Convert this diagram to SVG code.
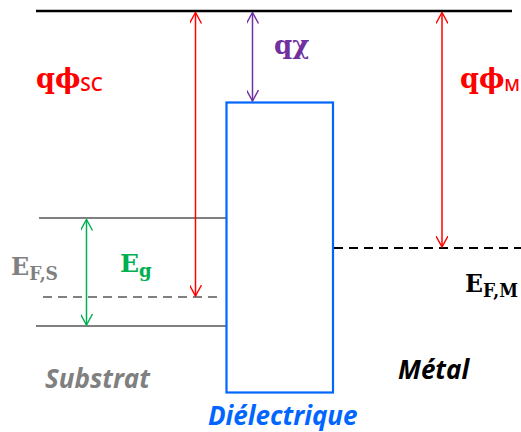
<svg xmlns="http://www.w3.org/2000/svg" width="521" height="432" viewBox="0 0 521 432">
<defs>
<marker id="ar-red" viewBox="0 0 12 12" refX="11" refY="6" markerWidth="12" markerHeight="12" markerUnits="userSpaceOnUse" orient="auto-start-reverse"><path d="M0,0 L11,6 L0,12" fill="none" stroke="#FF0000" stroke-width="1.4"/></marker>
<marker id="ar-pur" viewBox="0 0 12 12" refX="11" refY="6" markerWidth="12" markerHeight="12" markerUnits="userSpaceOnUse" orient="auto-start-reverse"><path d="M0,0 L11,6 L0,12" fill="none" stroke="#7030A0" stroke-width="1.4"/></marker>
<marker id="ar-grn" viewBox="0 0 12 12" refX="11" refY="6" markerWidth="12" markerHeight="12" markerUnits="userSpaceOnUse" orient="auto-start-reverse"><path d="M0,0 L11,6 L0,12" fill="none" stroke="#00B050" stroke-width="1.4"/></marker>
<style>
.serif{font-family:"DejaVu Serif","Liberation Serif",serif;font-weight:bold}
.sans{font-family:"Open Sans","Liberation Sans",sans-serif;font-weight:bold;font-style:italic}
.lvl{stroke-width:2.2;fill:none}
</style>
</defs>
<g id="levels">
<line x1="36" y1="11" x2="512" y2="11" stroke="#000" stroke-width="2.5"/>
<line class="lvl" x1="39" y1="218" x2="226" y2="218" stroke="#808080"/>
<line class="lvl" x1="36" y1="326" x2="226" y2="326" stroke="#808080"/>
<line class="lvl" x1="43" y1="297" x2="222" y2="297" stroke="#808080" stroke-dasharray="9,6"/>
<line class="lvl" x1="334" y1="248" x2="521" y2="248" stroke="#000" stroke-dasharray="9,6"/>
</g>
<g id="dielectrique">
<rect x="226.5" y="102.5" width="106.5" height="290" fill="none" stroke="#0066FF" stroke-width="2.2"/>
</g>
<g id="connectors">
<line x1="195.5" y1="12.5" x2="195.5" y2="296" stroke="#FF0000" stroke-width="1.5" marker-start="url(#ar-red)" marker-end="url(#ar-red)"/>
<line x1="252.5" y1="12.5" x2="252.5" y2="101" stroke="#7030A0" stroke-width="1.5" marker-start="url(#ar-pur)" marker-end="url(#ar-pur)"/>
<line x1="442" y1="12.5" x2="442" y2="247" stroke="#FF0000" stroke-width="1.5" marker-start="url(#ar-red)" marker-end="url(#ar-red)"/>
<line x1="86.5" y1="219.5" x2="86.5" y2="325" stroke="#00B050" stroke-width="1.5" marker-start="url(#ar-grn)" marker-end="url(#ar-grn)"/>
</g>
<g id="labels">
<text class="serif" x="36" y="88" font-size="27" fill="#FF0000">qϕ<tspan font-family="Open Sans, Liberation Sans, sans-serif" font-weight="600" font-size="19" dy="3">SC</tspan></text>
<text class="serif" x="274" y="54" font-size="26" fill="#7030A0">qχ</text>
<text class="serif" x="460" y="88" font-size="27" fill="#FF0000">qϕ<tspan font-family="Open Sans, Liberation Sans, sans-serif" font-weight="600" font-size="17" dy="3">M</tspan></text>
<text class="serif" x="120" y="272" font-size="25" fill="#00B050">E<tspan font-size="18" dy="5">g</tspan></text>
<text class="serif" x="11" y="275" font-size="25" fill="#808080" textLength="47" lengthAdjust="spacingAndGlyphs">E<tspan font-size="18" dy="5">F,S</tspan></text>
<text class="serif" x="465" y="292" font-size="25" fill="#000" textLength="53" lengthAdjust="spacingAndGlyphs">E<tspan font-size="18" dy="5">F,M</tspan></text>
<text class="sans" x="45" y="388" font-size="26" fill="#808080">Substrat</text>
<text class="sans" x="398" y="379" font-size="26" fill="#000">Métal</text>
<text class="sans" x="208" y="425" font-size="26" fill="#0066FF">Diélectrique</text>
</g>
</svg>
